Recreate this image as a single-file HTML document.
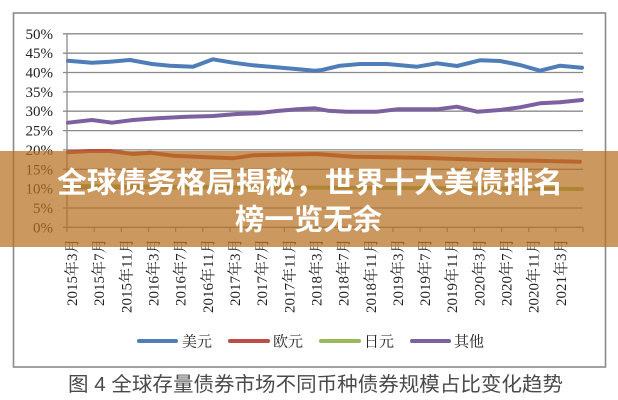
<!DOCTYPE html>
<html><head><meta charset="utf-8"><style>
html,body{margin:0;padding:0;background:#fff;}
svg{display:block;}
</style></head><body>
<svg width="618" height="400" viewBox="0 0 618 400" xmlns="http://www.w3.org/2000/svg">
<rect x="0" y="0" width="618" height="400" fill="#fff"/>
<!-- frame -->
<rect x="13.5" y="13" width="592" height="354" fill="none" stroke="#8a8a8a" stroke-width="1.6"/>
<!-- grid -->
<g stroke="#8a8a8a" stroke-width="1.3">
<line x1="63" y1="33.8" x2="583" y2="33.8"/>
<line x1="63" y1="53.2" x2="583" y2="53.2"/>
<line x1="63" y1="72.5" x2="583" y2="72.5"/>
<line x1="63" y1="91.9" x2="583" y2="91.9"/>
<line x1="63" y1="111.2" x2="583" y2="111.2"/>
<line x1="63" y1="130.6" x2="583" y2="130.6"/>
<line x1="63" y1="149.9" x2="583" y2="149.9"/>
<line x1="63" y1="169.3" x2="583" y2="169.3"/>
<line x1="63" y1="188.6" x2="583" y2="188.6"/>
<line x1="63" y1="208" x2="583" y2="208"/>
<line x1="63" y1="227.3" x2="583" y2="227.3"/>
<line x1="67" y1="33.8" x2="67" y2="232"/>
</g>
<g stroke="#8a8a8a" stroke-width="1.2">
<line x1="94.2" y1="227" x2="94.2" y2="232"/><line x1="121.3" y1="227" x2="121.3" y2="232"/><line x1="148.5" y1="227" x2="148.5" y2="232"/><line x1="175.6" y1="227" x2="175.6" y2="232"/><line x1="202.8" y1="227" x2="202.8" y2="232"/><line x1="230" y1="227" x2="230" y2="232"/><line x1="257.1" y1="227" x2="257.1" y2="232"/><line x1="284.3" y1="227" x2="284.3" y2="232"/><line x1="311.4" y1="227" x2="311.4" y2="232"/><line x1="338.6" y1="227" x2="338.6" y2="232"/><line x1="365.8" y1="227" x2="365.8" y2="232"/><line x1="392.9" y1="227" x2="392.9" y2="232"/><line x1="420.1" y1="227" x2="420.1" y2="232"/><line x1="447.2" y1="227" x2="447.2" y2="232"/><line x1="474.4" y1="227" x2="474.4" y2="232"/><line x1="501.6" y1="227" x2="501.6" y2="232"/><line x1="528.7" y1="227" x2="528.7" y2="232"/><line x1="555.9" y1="227" x2="555.9" y2="232"/><line x1="583" y1="227" x2="583" y2="232"/>
</g>
<!-- y labels -->
<g font-family="'Liberation Serif', serif" font-size="15" fill="#222" text-anchor="end">
<text x="53" y="38.8">50%</text>
<text x="53" y="58.2">45%</text>
<text x="53" y="77.5">40%</text>
<text x="53" y="96.9">35%</text>
<text x="53" y="116.2">30%</text>
<text x="53" y="135.6">25%</text>
<text x="53" y="154.9">20%</text>
<text x="53" y="174.3">15%</text>
<text x="53" y="193.6">10%</text>
<text x="53" y="213">5%</text>
<text x="53" y="232.3">0%</text>
</g>
<!-- x labels -->
<g font-family="'Liberation Serif', 'Noto Serif CJK SC', serif" font-size="15" fill="#222" text-anchor="end">
<text transform="translate(77,238.5) rotate(-90)">2015年3月</text>
<text transform="translate(104.2,238.5) rotate(-90)">2015年7月</text>
<text transform="translate(131.3,238.5) rotate(-90)">2015年11月</text>
<text transform="translate(158.5,238.5) rotate(-90)">2016年3月</text>
<text transform="translate(185.6,238.5) rotate(-90)">2016年7月</text>
<text transform="translate(212.8,238.5) rotate(-90)">2016年11月</text>
<text transform="translate(240,238.5) rotate(-90)">2017年3月</text>
<text transform="translate(267.1,238.5) rotate(-90)">2017年7月</text>
<text transform="translate(294.3,238.5) rotate(-90)">2017年11月</text>
<text transform="translate(321.4,238.5) rotate(-90)">2018年3月</text>
<text transform="translate(348.6,238.5) rotate(-90)">2018年7月</text>
<text transform="translate(375.8,238.5) rotate(-90)">2018年11月</text>
<text transform="translate(402.9,238.5) rotate(-90)">2019年3月</text>
<text transform="translate(430.1,238.5) rotate(-90)">2019年7月</text>
<text transform="translate(457.2,238.5) rotate(-90)">2019年11月</text>
<text transform="translate(484.4,238.5) rotate(-90)">2020年3月</text>
<text transform="translate(511.6,238.5) rotate(-90)">2020年7月</text>
<text transform="translate(538.7,238.5) rotate(-90)">2020年11月</text>
<text transform="translate(565.9,238.5) rotate(-90)">2021年3月</text>
</g>
<!-- series -->
<g fill="none" stroke-width="4" stroke-linejoin="round" stroke-linecap="round">
<polyline stroke="#4f7db8" points="68,60.7 92,62.7 110,61.7 130,60 152,64 170,65.7 193,66.7 213,59.3 233,62.7 253,65.3 273,67 293,68.7 315,70.7 322,70 340,65.7 360,64 387,64 417,66.7 437,63.3 457,66 480,60.3 500,61 520,65 540,70.7 560,65.7 582,67.7"/>
<polyline stroke="#7c60a0" points="68,122.7 92,120 112,122.7 133,120 157,118.3 187,116.7 213,116 237,114 257,113.3 277,111 297,109.3 315,108.3 328,110.7 347,111.7 377,111.7 397,109.3 437,109.3 457,106.7 477,111.7 500,110 520,107.3 540,103.3 560,102.3 582,100"/>
<polyline stroke="#bd4d48" points="68,152.3 90,151 110,151 133,154 150,152.7 173,155.7 207,157.3 233,158.3 253,155.3 290,154.5 317,154 353,156.7 420,157.7 487,160 537,160.7 580,161.7"/>
<polyline stroke="#9bb85a" points="68,186 120,186.5 200,187 300,187.5 400,188 500,188.5 582,189"/>
</g>
<!-- legend -->
<g stroke-width="4" stroke-linecap="round">
<line x1="139" y1="341" x2="176" y2="341" stroke="#4f7db8"/>
<line x1="230" y1="341" x2="268" y2="341" stroke="#bd4d48"/>
<line x1="321" y1="341" x2="359" y2="341" stroke="#9bb85a"/>
<line x1="412" y1="341" x2="449" y2="341" stroke="#7c60a0"/>
</g>
<g font-family="'Liberation Serif', 'Noto Serif CJK SC', serif" font-size="15" fill="#222">
<text x="182" y="346.5">美元</text>
<text x="273" y="346.5">欧元</text>
<text x="364" y="346.5">日元</text>
<text x="454" y="346.5">其他</text>
</g>
<!-- caption -->
<text x="68" y="391" font-family="'Liberation Sans', 'Noto Sans CJK SC', sans-serif" font-size="20" fill="#4a4a4a" textLength="495" lengthAdjust="spacingAndGlyphs">图 4  全球存量债券市场不同币种债券规模占比变化趋势</text>
<!-- banner -->
<rect x="0" y="151" width="618" height="96" fill="rgb(183,112,35)" fill-opacity="0.72"/>
<g font-family="'Liberation Sans', 'Noto Sans CJK SC', sans-serif" font-size="29" font-weight="bold" fill="#fff">
<text x="57" y="192.5" textLength="506" lengthAdjust="spacingAndGlyphs">全球债务格局揭秘，世界十大美债排名</text>
<text x="235" y="229.5" textLength="147" lengthAdjust="spacingAndGlyphs">榜一览无余</text>
</g>
</svg>
</body></html>
